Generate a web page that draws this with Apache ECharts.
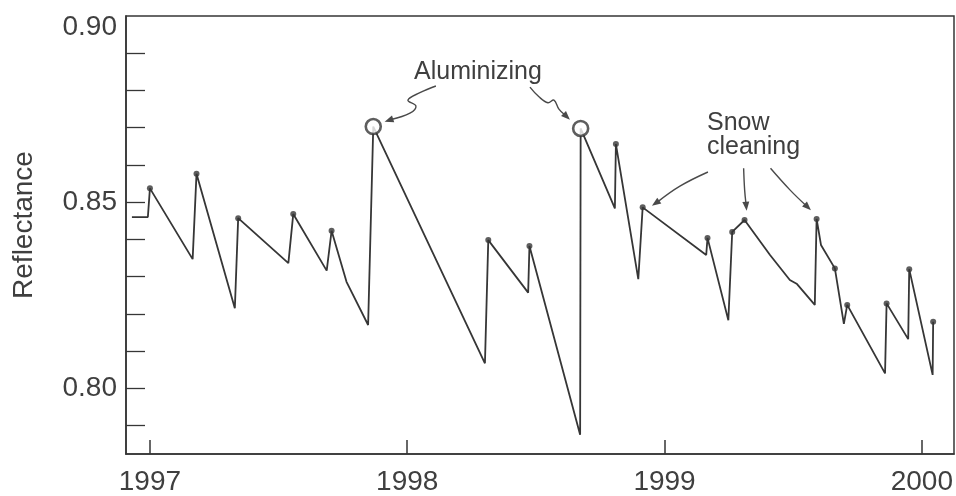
<!DOCTYPE html>
<html><head><meta charset="utf-8">
<script src="https://cdn.jsdelivr.net/npm/echarts@6/dist/echarts.min.js"></script>
<style>html,body{margin:0;padding:0;background:#fff}#c{width:956px;height:496px}</style>
</head><body><div id="c"></div>
<script>
// ---- data ----
const years = [
  1996.930, 1996.992, 1997.000, 1997.166, 1997.181, 1997.330, 1997.343, 1997.538, 1997.557,
  1997.687, 1997.706, 1997.764, 1997.848, 1997.868, 1998.302, 1998.315, 1998.470, 1998.475,
  1998.672, 1998.674, 1998.807, 1998.811, 1998.898, 1998.915, 1999.162, 1999.167, 1999.248,
  1999.263, 1999.311, 1999.410, 1999.487, 1999.515, 1999.584, 1999.591, 1999.608, 1999.662,
  1999.697, 1999.710, 1999.857, 1999.863, 1999.947, 1999.951, 2000.042, 2000.044
];
const reflectance = [
  0.8460, 0.8460, 0.8537, 0.8347, 0.8576, 0.8215, 0.8457, 0.8336, 0.8468,
  0.8316, 0.8423, 0.8286, 0.8170, 0.8703, 0.8067, 0.8398, 0.8257, 0.8382,
  0.7875, 0.8698, 0.8483, 0.8656, 0.8293, 0.8486, 0.8358, 0.8404, 0.8183,
  0.8420, 0.8452, 0.8358, 0.8291, 0.8280, 0.8224, 0.8455, 0.8385, 0.8322,
  0.8173, 0.8224, 0.8040, 0.8228, 0.8132, 0.8320, 0.8036, 0.8179
];
// event at each sample: 'wash' = cleaning, 'alum' = aluminizing, '' = none
const events = [
  '', '', 'wash', '', 'wash', '', 'wash', '', 'wash',
  '', 'wash', '', '', 'alum', '', 'wash', '', 'wash',
  '', 'alum', '', 'wash', '', 'wash', '', 'wash', '',
  'wash', 'wash', '', '', '', '', 'wash', '', 'wash',
  '', 'wash', '', 'wash', '', 'wash', '', 'wash'
];
const xTickYears = [1997, 1998, 1999, 2000];
const yLabelValues = [0.80, 0.85, 0.90];
const yTickValues = [0.79, 0.80, 0.81, 0.82, 0.83, 0.84, 0.85, 0.86, 0.87, 0.88, 0.89];
const yAxisTitle = 'Reflectance';
const annotationTexts = ['Aluminizing', 'Snow\ncleaning'];
const annotationYear = [1998.275, 1999.165];
const annotationValue = [0.8850, 0.8679];
// annotation arrows (data coordinates, last point = tip)
const arrowYears = [
  [1998.1115, 1998.0493, 1998.0027, 1998.0338, 1998.0105, 1997.912],
  [1998.4769, 1998.5119, 1998.5468, 1998.5702, 1998.5896, 1998.6323],
  [1999.1687, 1999.0598, 1998.9510],
  [1999.3074, 1999.3113, 1999.3191],
  [1999.4119, 1999.4873, 1999.5691]
];
const arrowValues = [
  [0.8812, 0.8794, 0.8774, 0.8758, 0.8739, 0.8716],
  [0.8809, 0.8783, 0.8767, 0.8774, 0.8750, 0.8721],
  [0.8581, 0.8543, 0.8490],
  [0.8591, 0.8533, 0.8477],
  [0.8591, 0.8533, 0.8478]
];

// ---- chart ----
const INK = '#363636';
const TXT = '#3f3f3f';
const FONT = '"Liberation Sans", Arial, Helvetica, sans-serif';

const series = years.map((y, i) => [y, reflectance[i]]);
const washPts = series.filter((p, i) => events[i] === 'wash');
const alumPts = series.filter((p, i) => events[i] === 'alum');

const chart = echarts.init(document.getElementById('c'), null, {renderer: 'canvas'});

function renderArrow(params, api) {
  const i = api.value(2);
  const xs = arrowYears[i], ys = arrowValues[i];
  const pts = xs.map((x, k) => api.coord([x, ys[k]]));
  const n = pts.length;
  const tip = pts[n - 1], prev = pts[n - 2];
  const dx = tip[0] - prev[0], dy = tip[1] - prev[1];
  const L = Math.hypot(dx, dy) || 1;
  const ux = dx / L, uy = dy / L;
  const head = 9, hw = 3.5;
  const bx = tip[0] - ux * head, by = tip[1] - uy * head;
  const tri = [[tip[0], tip[1]], [bx - uy * hw, by + ux * hw], [bx + uy * hw, by - ux * hw]];
  const linePts = pts.slice(0, n - 1).concat([[bx + ux * 2, by + uy * 2]]);
  return {
    type: 'group',
    children: [
      {type: 'polyline', shape: {points: linePts, smooth: 0.4}, style: {stroke: '#4a4a4a', lineWidth: 1.4, fill: null}},
      {type: 'polygon', shape: {points: tri}, style: {fill: '#4a4a4a'}}
    ]
  };
}

function renderText(params, api) {
  const i = api.value(2);
  const p = api.coord([api.value(0), api.value(1)]);
  return {
    type: 'text', x: p[0], y: p[1],
    style: {
      text: annotationTexts[i], fontSize: 25, fontFamily: FONT, fill: TXT,
      align: i === 0 ? 'center' : 'left', verticalAlign: 'middle', lineHeight: 24
    }
  };
}

chart.setOption({
  backgroundColor: '#ffffff',
  animation: false,
  grid: {left: 126, right: 2, top: 16, bottom: 42, show: true, borderColor: INK, borderWidth: 1.5, backgroundColor: 'transparent'},
  xAxis: {
    type: 'value', min: 1996.907, max: 2000.125,
    axisLine: {show: true, lineStyle: {color: INK, width: 1.6}},
    axisTick: {show: true, inside: true, length: 14, customValues: xTickYears, lineStyle: {color: INK, width: 1.5}},
    axisLabel: {show: true, customValues: xTickYears, margin: 14, color: TXT, fontSize: 28, fontFamily: FONT,
      formatter: v => String(Math.round(v))},
    splitLine: {show: false}
  },
  yAxis: {
    type: 'value', min: 0.78235, max: 0.90,
    name: yAxisTitle, nameLocation: 'middle', nameRotate: 90, nameGap: 88,
    nameTextStyle: {color: TXT, fontSize: 28, fontFamily: FONT, padding: [0, 0, 0, 20]},
    axisLine: {show: true, lineStyle: {color: INK, width: 1.6}},
    axisTick: {show: true, inside: true, length: 19, customValues: yTickValues, lineStyle: {color: INK, width: 1.3}},
    axisLabel: {show: true, customValues: yLabelValues, margin: 9, color: TXT, fontSize: 28, fontFamily: FONT,
      formatter: v => Math.abs(v - 0.9) < 1e-9 ? '{t|' + v.toFixed(2) + '}' : v.toFixed(2),
      rich: {t: {padding: [23, 0, 0, 0], color: TXT, fontSize: 28, fontFamily: FONT}}},
    splitLine: {show: false}
  },
  series: [
    {type: 'line', data: series, showSymbol: false, symbol: 'none', z: 2,
      lineStyle: {color: INK, width: 1.8}},
    {type: 'scatter', data: washPts, symbol: 'circle', symbolSize: 6, z: 3,
      itemStyle: {color: INK}},
    {type: 'scatter', data: alumPts, symbol: 'circle', symbolSize: 15, z: 4,
      itemStyle: {color: '#ffffff', borderColor: INK, borderWidth: 2.6}},
    {type: 'custom', renderItem: renderArrow, z: 5, silent: true,
      data: arrowYears.map((xs, i) => [xs[xs.length - 1], arrowValues[i][arrowValues[i].length - 1], i])},
    {type: 'custom', renderItem: renderText, z: 5, silent: true,
      data: annotationTexts.map((t, i) => [annotationYear[i], annotationValue[i], i])}
  ]
});
</script>
</body></html>
